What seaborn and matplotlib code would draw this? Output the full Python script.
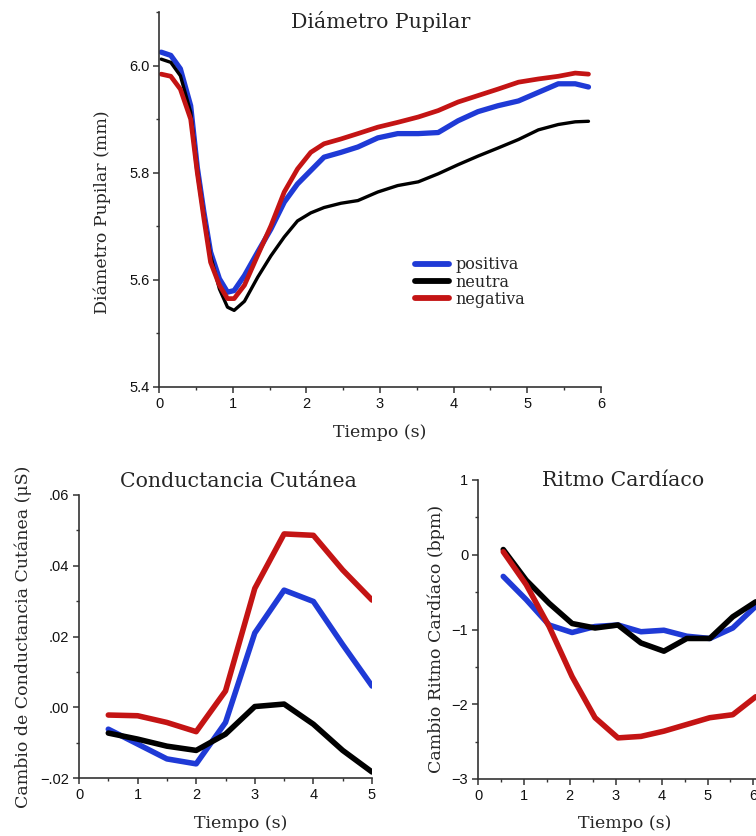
import matplotlib
matplotlib.use("Agg")
import matplotlib.pyplot as plt
import seaborn as sns
import pandas as pd
from matplotlib.ticker import MultipleLocator, FuncFormatter

# ---------------- data ----------------
conditions = ["positiva", "neutra", "negativa"]
colors = {"positiva": "#1f3ad6", "neutra": "#000000", "negativa": "#c41414"}

t_pupil = [0.03, 0.16, 0.29, 0.43, 0.52, 0.61, 0.70, 0.82, 0.93, 1.02, 1.16, 1.34,
           1.52, 1.70, 1.88, 2.06, 2.24, 2.47, 2.70, 2.97, 3.24, 3.52, 3.79, 4.06,
           4.33, 4.60, 4.88, 5.15, 5.42, 5.65, 5.83]
pupil_pos = [6.025, 6.019, 5.994, 5.925, 5.81, 5.726, 5.652, 5.602, 5.577, 5.58, 5.608, 5.652,
             5.695, 5.745, 5.779, 5.804, 5.829, 5.838, 5.848, 5.865, 5.873, 5.873, 5.875, 5.897,
             5.914, 5.925, 5.934, 5.95, 5.966, 5.966, 5.96]
pupil_neu = [6.012, 6.006, 5.981, 5.913, 5.807, 5.72, 5.645, 5.583, 5.549, 5.543, 5.56, 5.605,
             5.645, 5.68, 5.71, 5.725, 5.735, 5.743, 5.748, 5.764, 5.776, 5.783, 5.798, 5.815,
             5.831, 5.846, 5.862, 5.88, 5.89, 5.895, 5.896]
pupil_neg = [5.984, 5.98, 5.956, 5.9, 5.80, 5.714, 5.633, 5.59, 5.565, 5.565, 5.59, 5.646,
             5.701, 5.764, 5.807, 5.838, 5.854, 5.863, 5.873, 5.885, 5.894, 5.904, 5.916, 5.932,
             5.944, 5.956, 5.969, 5.975, 5.98, 5.986, 5.984]

t_scr = [0.5, 1.0, 1.5, 2.0, 2.5, 3.0, 3.5, 4.0, 4.5, 5.0]
scr_pos = [-0.0062, -0.0104, -0.0146, -0.0160, -0.0043, 0.0210, 0.0331, 0.0299, 0.0177, 0.0060]
scr_neu = [-0.0073, -0.0090, -0.0110, -0.0122, -0.0076, 0.0002, 0.0009, -0.0048, -0.0122, -0.0183]
scr_neg = [-0.0022, -0.0024, -0.0043, -0.0069, 0.0046, 0.0336, 0.0490, 0.0486, 0.0388, 0.0303]

t_hr = [0.55, 1.05, 1.55, 2.05, 2.55, 3.05, 3.55, 4.05, 4.55, 5.05, 5.55, 6.05]
hr_pos = [-0.29, -0.60, -0.94, -1.04, -0.96, -0.94, -1.03, -1.01, -1.09, -1.12, -0.98, -0.69]
hr_neu = [0.07, -0.34, -0.65, -0.92, -0.98, -0.94, -1.18, -1.29, -1.12, -1.12, -0.83, -0.63]
hr_neg = [0.04, -0.40, -0.96, -1.63, -2.18, -2.45, -2.43, -2.36, -2.27, -2.18, -2.14, -1.90]


def long_df(t, pos, neu, neg):
    rows = []
    for name, vals in zip(conditions, [pos, neu, neg]):
        for x, y in zip(t, vals):
            rows.append({"t": x, "v": y, "cond": name})
    return pd.DataFrame(rows)


df_pupil = long_df(t_pupil, pupil_pos, pupil_neu, pupil_neg)
df_scr = long_df(t_scr, scr_pos, scr_neu, scr_neg)
df_hr = long_df(t_hr, hr_pos, hr_neu, hr_neg)

# ---------------- style ----------------
sns.set_style("ticks")
SERIF = ["DejaVu Serif"]
SANS = ["Liberation Sans", "DejaVu Sans"]
plt.rcParams["font.family"] = SANS
plt.rcParams["axes.edgecolor"] = "#333333"
plt.rcParams["axes.linewidth"] = 1.2

fig = plt.figure(figsize=(7.56, 8.36), dpi=100)
W, H = 756.0, 836.0


def px_axes(left, right, top, bottom):
    return fig.add_axes([left / W, 1 - bottom / H, (right - left) / W, (bottom - top) / H])


ax1 = px_axes(159, 601, 12, 387)
ax2 = px_axes(79, 372, 495, 778)
ax3 = px_axes(478, 478 + 6.5 * 45.9, 480, 779)


def style_axes(ax):
    sns.despine(ax=ax)
    ax.tick_params(which="major", direction="out", length=4, width=1.1, color="#333333",
                   labelsize=10.5, labelcolor="#111111", pad=3)
    ax.tick_params(which="minor", direction="out", length=2.5, width=1.0, color="#333333")
    for lab in ax.get_xticklabels() + ax.get_yticklabels():
        lab.set_fontfamily(SANS)


def place_labels(ax, xl, yl, xpos, ypos):
    ax.set_xlabel(xl, fontfamily=SERIF, fontsize=12.5)
    ax.set_ylabel(yl, fontfamily=SERIF, fontsize=12.5)
    ax.xaxis.set_label_coords(*xpos)
    ax.yaxis.set_label_coords(*ypos)
    ax.xaxis.label.set_va("center")
    ax.yaxis.label.set_va("center")


# ---- top: pupil ----
lw_map = {"positiva": 3.8, "neutra": 2.4, "negativa": 3.4}
for cond in conditions:
    sns.lineplot(data=df_pupil[df_pupil.cond == cond], x="t", y="v", ax=ax1,
                 color=colors[cond], lw=lw_map[cond], label=cond, legend=False)
ax1.set_xlim(0, 6)
ax1.set_ylim(5.4, 6.1)
ax1.xaxis.set_major_locator(MultipleLocator(1))
ax1.xaxis.set_minor_locator(MultipleLocator(0.5))
ax1.yaxis.set_major_locator(MultipleLocator(0.2))
ax1.yaxis.set_minor_locator(MultipleLocator(0.1))
ax1.yaxis.set_major_formatter(FuncFormatter(lambda v, p: f"{v:.1f}"))
style_axes(ax1)
place_labels(ax1, "Tiempo (s)", "Diámetro Pupilar (mm)",
             (0.5, -(432 - 387) / 375), (-(159 - 102) / 442, 0.465))

handles = [plt.Line2D([], [], color=colors[c], lw=4.2) for c in conditions]
leg = ax1.legend(handles, conditions, loc="upper left", bbox_to_anchor=(0.555, 0.378),
                 frameon=False, prop={"family": SERIF, "size": 11.5},
                 handlelength=2.1, handletextpad=0.4, labelspacing=0.02, borderpad=0.2)
fig.text(381 / W, 1 - 22 / H, "Diámetro Pupilar", fontfamily=SERIF, fontsize=14.8,
         ha="center", va="center")

# ---- bottom left: skin conductance ----
for cond in conditions:
    sns.lineplot(data=df_scr[df_scr.cond == cond], x="t", y="v", ax=ax2,
                 color=colors[cond], lw=4.0, legend=False)
ax2.set_xlim(0, 5)
ax2.set_ylim(-0.02, 0.06)
ax2.xaxis.set_major_locator(MultipleLocator(1))
ax2.xaxis.set_minor_locator(MultipleLocator(0.5))
ax2.yaxis.set_major_locator(MultipleLocator(0.02))
ax2.yaxis.set_minor_locator(MultipleLocator(0.01))


def dotfmt(v, p):
    s = f"{abs(v):.2f}".lstrip("0")
    return ("\u2212" if v < -1e-9 else "") + s


ax2.yaxis.set_major_formatter(FuncFormatter(dotfmt))
style_axes(ax2)
place_labels(ax2, "Tiempo (s)", "Cambio de Conductancia Cutánea (μS)",
             ((241 - 79) / 293, -(823 - 778) / 283), (-(79 - 23) / 293, 0.5))
fig.text(238 / W, 1 - 482 / H, "Conductancia Cutánea", fontfamily=SERIF, fontsize=14.8,
         ha="center", va="center")

# ---- bottom right: heart rate ----
for cond in conditions:
    sns.lineplot(data=df_hr[df_hr.cond == cond], x="t", y="v", ax=ax3,
                 color=colors[cond], lw=4.0, legend=False)
ax3.set_xlim(0, 6.5)
ax3.set_ylim(-3, 1)
ax3.xaxis.set_major_locator(MultipleLocator(1))
ax3.xaxis.set_minor_locator(MultipleLocator(0.5))
ax3.yaxis.set_major_locator(MultipleLocator(1))
ax3.yaxis.set_minor_locator(MultipleLocator(0.5))
ax3.yaxis.set_major_formatter(FuncFormatter(lambda v, p: ("\u2212" if v < 0 else "") + f"{abs(v):.0f}"))
style_axes(ax3)
place_labels(ax3, "Tiempo (s)", "Cambio Ritmo Cardíaco (bpm)",
             ((625 - 478) / (6.5 * 45.9), -(823 - 779) / 299), (-(478 - 436) / (6.5 * 45.9), 0.47))
fig.text(623 / W, 1 - 481 / H, "Ritmo Cardíaco", fontfamily=SERIF, fontsize=14.8,
         ha="center", va="center")

fig.savefig("out.png", dpi=100)
